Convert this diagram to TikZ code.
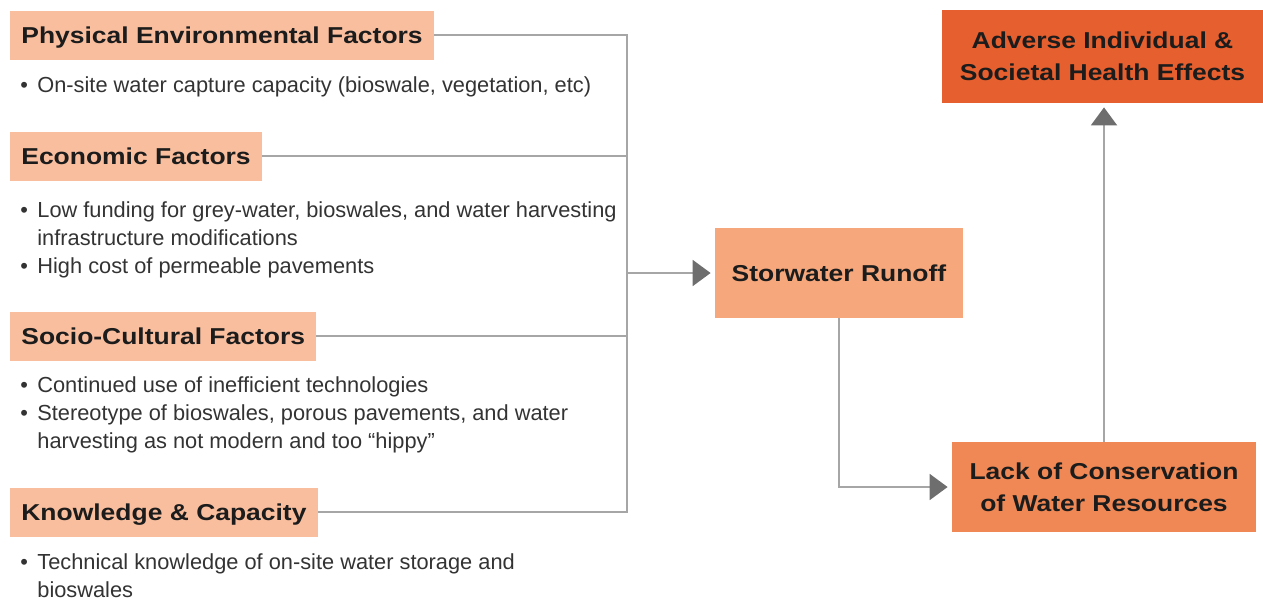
\documentclass[tikz,border=0pt]{standalone}
\usepackage{fontspec}
\setmainfont{Liberation Sans}
\newfontfamily\headfont[FakeStretch=1.15]{Liberation Sans}
\usetikzlibrary{arrows.meta,positioning}
\definecolor{peach}{HTML}{F9BE9E}
\definecolor{runoffc}{HTML}{F6A77B}
\definecolor{lackc}{HTML}{EF8855}
\definecolor{adversec}{HTML}{E65F2E}
\definecolor{linegray}{HTML}{A6A6A6}
\definecolor{tipgray}{HTML}{6E6E6E}
\definecolor{inkblack}{HTML}{1C1C1C}
\definecolor{notegray}{HTML}{333333}
\newcommand\dotmark{\makebox[8.5pt][l]{\textbullet}}
\tikzset{
  factor/.style={fill=peach,anchor=west,inner xsep=5.5pt,minimum height=24.5pt,
    text height=8.3pt,text depth=0pt,
    font=\headfont\bfseries\fontsize{11.5}{16}\selectfont,text=inkblack},
  note/.style={anchor=base west,align=left,inner sep=0pt,
    font=\fontsize{10.9}{14}\selectfont,text=notegray},
  effect/.style={align=center,inner sep=0pt,
    font=\headfont\bfseries\fontsize{11.5}{16}\selectfont,text=inkblack},
  link/.style={draw=linegray,line width=1pt},
  flow/.style={link,-{Triangle[length=9pt,width=13pt,color=tipgray]},shorten >=2pt}
}
\begin{document}
\begin{tikzpicture}[x=0.5pt,y=-0.5pt]
\useasboundingbox (0,0) rectangle (1263,601);
\node[factor] (phys) at (10,35) {Physical Environmental Factors};
\node[note] (physA) at (20,92) {\dotmark On-site water capture capacity (bioswale, vegetation, etc)};
\node[factor] (econ) at (10,156) {Economic Factors};
\node[note] (econA) at (20,245) {\dotmark Low funding for grey-water, bioswales, and water harvesting\\
  \hspace*{8.5pt}infrastructure modifications};
\node[note] (econB) at (20,273) {\dotmark High cost of permeable pavements};
\node[factor] (soc) at (10,336) {Socio-Cultural Factors};
\node[note] (socA) at (20,392) {\dotmark Continued use of inefficient technologies};
\node[note] (socB) at (20,448) {\dotmark Stereotype of bioswales, porous pavements, and water\\
  \hspace*{8.5pt}harvesting as not modern and too “hippy”};
\node[factor] (know) at (10,512) {Knowledge \& Capacity};
\node[note] (knowA) at (20,597) {\dotmark Technical knowledge of on-site water storage and\\
  \hspace*{8.5pt}bioswales};
\node[effect,fill=runoffc,minimum width=124pt,minimum height=45pt] (runoff) at (839,273) {Storwater Runoff};
\node[effect,fill=lackc,minimum width=152pt,minimum height=45pt] (lack) at (1104,487) {Lack of Conservation\\of Water Resources};
\node[effect,fill=adversec,minimum width=160.5pt,minimum height=46.5pt] (adverse) at (1102.5,56.5) {Adverse Individual \&\\Societal Health Effects};
\coordinate (hub) at (627,273);
\draw[link] (phys.east) -| (hub);
\draw[link] (econ.east) -| (hub);
\draw[link] (soc.east) -| (hub);
\draw[link] (know.east) -| (hub);
\draw[flow] (hub) -- (runoff.west);
\draw[flow] (runoff.south) |- (lack.west);
\draw[flow] (lack.north) -- (lack.north |- adverse.south);
\end{tikzpicture}
\end{document}
